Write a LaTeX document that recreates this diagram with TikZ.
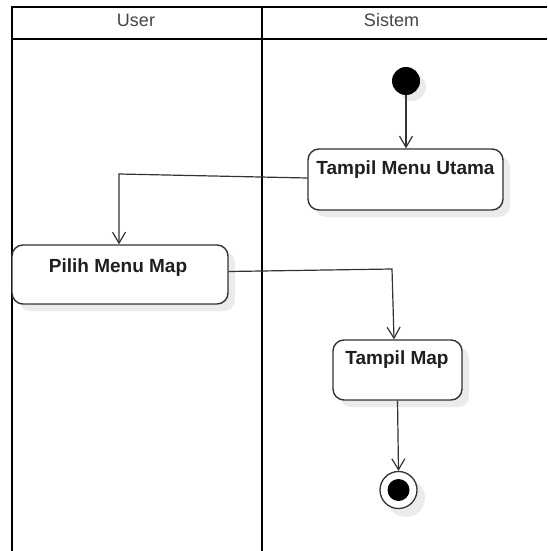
\documentclass[tikz,border=0pt]{standalone}
\usepackage{fontspec}
\setmainfont{Liberation Sans}
\usetikzlibrary{arrows.meta,shadows}
\definecolor{edgegray}{HTML}{333333}
\definecolor{headtext}{HTML}{444444}
\definecolor{shadegray}{HTML}{EBEBEB}
\tikzset{
  lane/.style={line width=2.4pt, draw=black, line join=miter},
  headlbl/.style={font=\fontsize{18}{20}\selectfont, text=headtext, anchor=base, inner sep=0pt},
  act/.style={draw=edgegray, line width=1.4pt, fill=white, rounded corners=11pt,
    general shadow={fill=shadegray, shadow xshift=7pt, shadow yshift=-7pt}},
  actlbl/.style={font=\bfseries\fontsize{19}{22}\selectfont, text=black!88, anchor=base, inner sep=0pt},
  conn/.style={draw=edgegray, line width=1.2pt,
    -{Straight Barb[length=11pt, width=13pt, line width=1.2pt]}},
}
\begin{document}
\begin{tikzpicture}[x=1pt, y=-1pt]
  \useasboundingbox (0,0) rectangle (547,551);

  % swimlane frame
  \draw[lane] (12,551) -- (12,7) -- (547,7);
  \draw[lane] (12,39) -- (547,39);
  \draw[lane] (262,7) -- (262,551);
  \node[headlbl] (hUser) at (136,26.5) {User};
  \node[headlbl] (hSistem) at (391.5,26.5) {Sistem};

  % start node
  \fill[shadegray] (412,87) circle (14pt);
  \node[circle, fill=black, minimum size=28pt, inner sep=0pt] (init) at (406,81) {};

  % activities
  \node[act, minimum width=195pt, minimum height=61pt] (tmu) at (405.5,179.5) {};
  \node[actlbl] (tmuText) at (405.5,174) {Tampil Menu Utama};

  \node[act, minimum width=216pt, minimum height=59pt] (pmm) at (120,274.5) {};
  \node[actlbl] (pmmText) at (118,272) {Pilih Menu Map};

  \node[act, minimum width=129pt, minimum height=60pt] (tm) at (397.5,370) {};
  \node[actlbl] (tmText) at (397,364) {Tampil Map};

  % end node
  \fill[shadegray] (406,498) circle (19pt);
  \node[circle, draw=edgegray, line width=1.3pt, fill=white, minimum size=37pt, inner sep=0pt] (final) at (398.5,490) {};
  \fill[black] (final) circle (11pt);

  % connectors
  \coordinate (c1) at (119,174);
  \coordinate (c2) at (392,269);
  \draw[conn] (init.south) -- (init.south |- tmu.north);
  \draw[conn] ([yshift=1.5pt]tmu.west) -- (c1) -- (c1 |- pmm.north);
  \draw[conn] ([yshift=3pt]pmm.east) -- (c2) -- ([xshift=-3.5pt]tm.north);
  \draw[conn] (tm.south) -- (final.north);
\end{tikzpicture}
\end{document}
